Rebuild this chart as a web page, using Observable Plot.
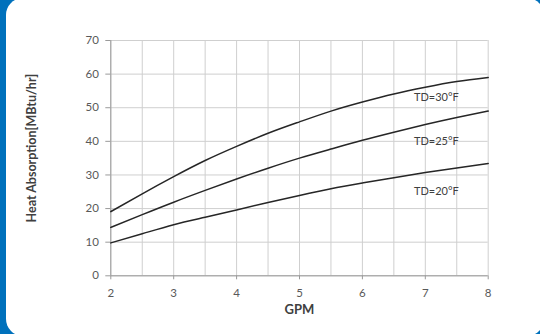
<!DOCTYPE html>
<html>
<head>
<meta charset="utf-8">
<script src="https://cdn.jsdelivr.net/npm/d3@7"></script>
<script src="https://cdn.jsdelivr.net/npm/@observablehq/plot@0.6"></script>
<style>
  html, body { margin: 0; padding: 0; }
  body { width: 540px; height: 334px; overflow: hidden; position: relative; background: #0071BC; font-family: Lato, "Open Sans", sans-serif; }
  #card { position: absolute; left: 6px; top: -2px; width: 538px; height: 338px; background: #fff; border-radius: 17px; }
  #chart { position: absolute; left: 0; top: 0; }
</style>
</head>
<body>
<div id="card"></div>
<div id="chart"></div>
<script>
const gpm  = [2, 2.5, 3, 3.5, 4, 4.5, 5, 5.5, 6, 6.5, 7, 7.5, 8];
const td30 = [19.1, 24.4, 29.5, 34.3, 38.5, 42.4, 45.8, 49.0, 51.7, 54.1, 56.1, 57.8, 59.0];
const td25 = [14.4, 18.2, 21.9, 25.4, 28.8, 32.0, 35.0, 37.7, 40.3, 42.7, 45.0, 47.1, 49.0];
const td20 = [9.8, 12.5, 15.2, 17.4, 19.6, 21.8, 23.9, 25.9, 27.6, 29.2, 30.7, 32.1, 33.4];
const seriesNames = ["TD=30°F", "TD=25°F", "TD=20°F"];
const labelX = [6.82, 6.82, 6.82];
const labelY = [53.0, 40.1, 25.2];
const xTicks = [2, 3, 4, 5, 6, 7, 8];
const xGrid = [2, 2.5, 3, 3.5, 4, 4.5, 5, 5.5, 6, 6.5, 7, 7.5, 8];
const yTicks = [0, 10, 20, 30, 40, 50, 60, 70];

const seriesValues = [td30, td25, td20];
const rows = seriesNames.flatMap((name, i) => gpm.map((g, j) => ({series: name, x: g, y: seriesValues[i][j]})));
const labels = seriesNames.map((name, i) => ({text: name, x: labelX[i], y: labelY[i]}));

const chart = Plot.plot({
  width: 540,
  height: 334,
  marginLeft: 110.3,
  marginRight: 52.3,
  marginTop: 40,
  marginBottom: 58.7,
  style: {background: "transparent", fontFamily: "Lato, 'Open Sans', sans-serif", fontSize: "11.5px", color: "#595959"},
  x: {domain: [2, 8]},
  y: {domain: [0, 70]},
  marks: [
    Plot.gridX(xGrid, {stroke: "#cfcfcf", strokeOpacity: 1}),
    Plot.gridY(yTicks, {stroke: "#cfcfcf", strokeOpacity: 1}),
    Plot.ruleX([2], {stroke: "#9a9a9a"}),
    Plot.ruleY([0], {stroke: "#9a9a9a"}),
    Plot.axisY(yTicks, {tickSize: 5, tickPadding: 7, stroke: "#9a9a9a", fill: "#595959", label: null}),
    Plot.axisX(xTicks, {tickSize: 4, tickPadding: 9, stroke: "#9a9a9a", fill: "#595959", label: null}),
    Plot.line(rows, {x: "x", y: "y", z: "series", curve: "natural", stroke: "#262626", strokeWidth: 1.5}),
    Plot.text(labels, {x: "x", y: "y", text: "text", textAnchor: "start", fill: "#404040", fontSize: 11}),
    Plot.text(["GPM"], {frameAnchor: "bottom", textAnchor: "middle", dy: 38, fontWeight: "bold", fontSize: 13, fill: "#404040"}),
    Plot.text(["Heat Absorption[MBtu/hr]"], {frameAnchor: "left", textAnchor: "middle", dx: -78.6, dy: -10, rotate: -90, fontWeight: "bold", fontSize: 12.5, fill: "#404040"})
  ]
});
document.getElementById("chart").appendChild(chart);
</script>
</body>
</html>
